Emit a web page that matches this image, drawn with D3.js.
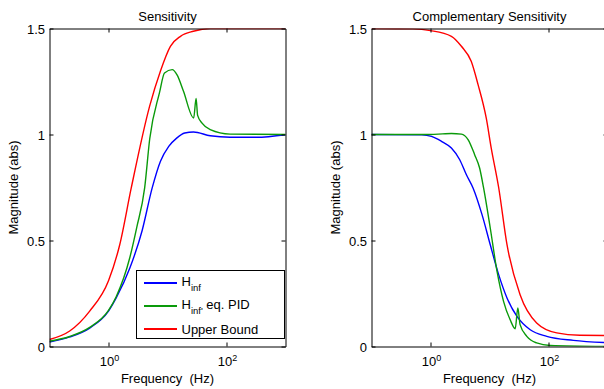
<!DOCTYPE html>
<html>
<head>
<meta charset="utf-8">
<script src="https://cdn.jsdelivr.net/npm/d3@7"></script>
<style>
  body { margin: 0; background: #fff; }
  text { font-family: "Liberation Sans", Arial, sans-serif; fill: #000; }
</style>
</head>
<body>
<div id="chart"></div>
<script>
(function() {
    // axis ticks
    let freqTicks = [1, 100]
    let magTicks = [0, 0.5, 1, 1.5]

    // Sensitivity panel
    let sHinfFreq = [0.1, 0.22, 0.48, 1.0, 1.35, 2.3, 3.7, 5.5, 7.6, 10.5, 14.3, 19.6, 27.6, 53, 115, 320, 1000]
    let sHinfMag  = [0.021, 0.045, 0.087, 0.167, 0.229, 0.37, 0.545, 0.748, 0.874, 0.944, 0.983, 1.007, 1.012, 0.994, 0.987, 0.987, 0.999]
    let sPidFreq  = [0.1, 0.22, 0.48, 1.0, 1.35, 2.3, 3.0, 4.1, 5.0, 7.3, 8.9, 12, 14.6, 18.6, 27.8, 30.5, 32.4, 38.5, 53, 115, 1000]
    let sPidMag   = [0.025, 0.047, 0.09, 0.17, 0.235, 0.42, 0.56, 0.748, 0.98, 1.196, 1.29, 1.306, 1.28, 1.205, 1.078, 1.17, 1.09, 1.054, 1.023, 1.002, 1.0]
    let sBndFreq  = [0.1, 0.22, 0.48, 1.0, 1.55, 2.43, 4.98, 7.6, 11.2, 16.6, 27.4, 53, 1000]
    let sBndMag   = [0.033, 0.073, 0.167, 0.31, 0.48, 0.748, 1.134, 1.3, 1.416, 1.463, 1.487, 1.5, 1.5]

    // Complementary sensitivity panel
    let tHinfFreq = [0.1, 0.71, 1.04, 1.53, 2.26, 3.13, 4.06, 5.26, 7.47, 10.3, 14.3, 19.8, 29.2, 49, 93.5, 264, 1000]
    let tHinfMag  = [1.0, 0.998, 0.991, 0.968, 0.936, 0.881, 0.81, 0.748, 0.622, 0.48, 0.339, 0.229, 0.142, 0.079, 0.048, 0.029, 0.018]
    let tPidFreq  = [0.1, 1.0, 1.6, 2.26, 3.34, 4.33, 5.6, 6.8, 7.94, 10.3, 13.4, 17.3, 22.4, 27.3, 30.2, 33, 42.9, 63, 107, 1000]
    let tPidMag   = [1.0, 1.0, 1.003, 1.005, 1.002, 0.976, 0.905, 0.842, 0.748, 0.559, 0.355, 0.213, 0.126, 0.084, 0.182, 0.103, 0.048, 0.017, 0.005, 0.0]
    let tBndFreq  = [0.1, 0.5, 1.0, 2.26, 3.34, 4.9, 6.4, 8.8, 10.7, 14.3, 19.8, 33, 63, 138, 340, 1000]
    let tBndMag   = [1.5, 1.498, 1.49, 1.463, 1.416, 1.345, 1.235, 1.078, 0.936, 0.75, 0.48, 0.244, 0.111, 0.064, 0.053, 0.052]

    let seriesNames = ["Hinf", "Hinf eq. PID", "Upper Bound"]
    let seriesColors = ["#0000ff", "#0a9a0a", "#ff0000"]
    let color = name => seriesColors[seriesNames.indexOf(name)]

    let w = 604, h = 389
    let top = 28.5, bottom = 346.5

    let svg = d3.select("#chart").append("svg")
                .attr("width", w)
                .attr("height", h)

    let y = d3.scaleLinear().domain([0, 1.5]).range([bottom, top])

    function drawPanel(x0, x1, title, series, id) {
        let x = d3.scaleLog().domain([0.1, 1000]).range([x0, x1])
        let g = svg.append("g")

        svg.append("clipPath").attr("id", id)
           .append("rect")
           .attr("x", x0).attr("y", top)
           .attr("width", x1 - x0).attr("height", bottom - top)

        let line = d3.line()
                     .x(d => x(d[0]))
                     .y(d => y(d[1]))
                     .curve(d3.curveMonotoneX)

        g.selectAll("path.curve")
         .data(series)
         .enter()
         .append("path")
         .attr("class", "curve")
         .attr("clip-path", "url(#" + id + ")")
         .attr("d", s => line(d3.zip(s.f, s.v)))
         .attr("fill", "none")
         .attr("stroke", s => color(s.name))
         .attr("stroke-width", 1.4)

        // box with inward ticks
        let axB = g.append("g").attr("transform", "translate(0," + bottom + ")")
                   .call(d3.axisBottom(x).tickValues(freqTicks).tickSizeInner(-4).tickSizeOuter(0).tickFormat(""))
        let axT = g.append("g").attr("transform", "translate(0," + top + ")")
                   .call(d3.axisTop(x).tickValues(freqTicks).tickSizeInner(-4).tickSizeOuter(0).tickFormat(""))
        let axL = g.append("g").attr("transform", "translate(" + x0 + ",0)")
                   .call(d3.axisLeft(y).tickValues(magTicks).tickSizeInner(-4).tickSizeOuter(0).tickPadding(4.5).tickFormat(d3.format("")))
        let axR = g.append("g").attr("transform", "translate(" + x1 + ",0)")
                   .call(d3.axisRight(y).tickValues(magTicks).tickSizeInner(-4).tickSizeOuter(0).tickFormat(""))

        ;[axB, axT, axL, axR].forEach(a => {
            a.attr("font-family", null).attr("font-size", null)
            a.selectAll("path, line").attr("stroke", "#000").attr("stroke-width", 1)
        })
        axL.selectAll("text").attr("font-size", 13).attr("dy", "0.36em")

        // 10^n tick labels
        let lab = g.selectAll("text.xlab")
                   .data(freqTicks)
                   .enter()
                   .append("text")
                   .attr("class", "xlab")
                   .attr("x", d => x(d) + 1)
                   .attr("y", 366)
                   .attr("text-anchor", "middle")
                   .attr("font-size", 13)
        lab.append("tspan").text("10")
        lab.append("tspan").attr("font-size", 9).attr("dy", -5.5).text(d => Math.round(Math.log10(d)))

        let cx = (x0 + x1) / 2
        g.append("text").attr("x", cx).attr("y", 21).attr("text-anchor", "middle")
         .attr("font-size", 13).text(title)
        g.append("text").attr("x", cx).attr("y", 383).attr("text-anchor", "middle")
         .attr("font-size", 13).style("white-space", "pre").text("Frequency  (Hz)")
        g.append("text").attr("transform", "translate(" + (x0 - 32) + "," + ((top + bottom) / 2) + ") rotate(-90)")
         .attr("text-anchor", "middle").attr("font-size", 13).text("Magnitude (abs)")
    }

    drawPanel(49.5, 285.5, "Sensitivity", [
        {name: "Hinf", f: sHinfFreq, v: sHinfMag},
        {name: "Hinf eq. PID", f: sPidFreq, v: sPidMag},
        {name: "Upper Bound", f: sBndFreq, v: sBndMag}
    ], "clipS")

    drawPanel(371.5, 607.5, "Complementary Sensitivity", [
        {name: "Hinf", f: tHinfFreq, v: tHinfMag},
        {name: "Hinf eq. PID", f: tPidFreq, v: tPidMag},
        {name: "Upper Bound", f: tBndFreq, v: tBndMag}
    ], "clipT")

    // legend in the sensitivity panel
    let leg = svg.append("g")
    leg.append("rect")
       .attr("x", 136.5).attr("y", 270.5)
       .attr("width", 148).attr("height", 68)
       .attr("fill", "#fff").attr("stroke", "#000").attr("stroke-width", 1)

    seriesNames.forEach((d, i) => {
        let ry = 283 + i * 23
        leg.append("line")
           .attr("x1", 144).attr("x2", 177)
           .attr("y1", ry).attr("y2", ry)
           .attr("stroke", color(d)).attr("stroke-width", 2)

        let el = leg.append("text").attr("x", 181.5).attr("font-size", 13)
        if (d === "Upper Bound") {
            el.attr("y", ry + 5).text(d)
        } else {
            el.attr("y", ry + 3.3)
            el.append("tspan").text("H")
            el.append("tspan").attr("font-size", 9.5).attr("dy", 4.5).text(d === "Hinf" ? "inf" : "inf'")
            if (d !== "Hinf") el.append("tspan").attr("dy", -4.5).text(" eq. PID")
        }
    })
})()
</script>
</body>
</html>
